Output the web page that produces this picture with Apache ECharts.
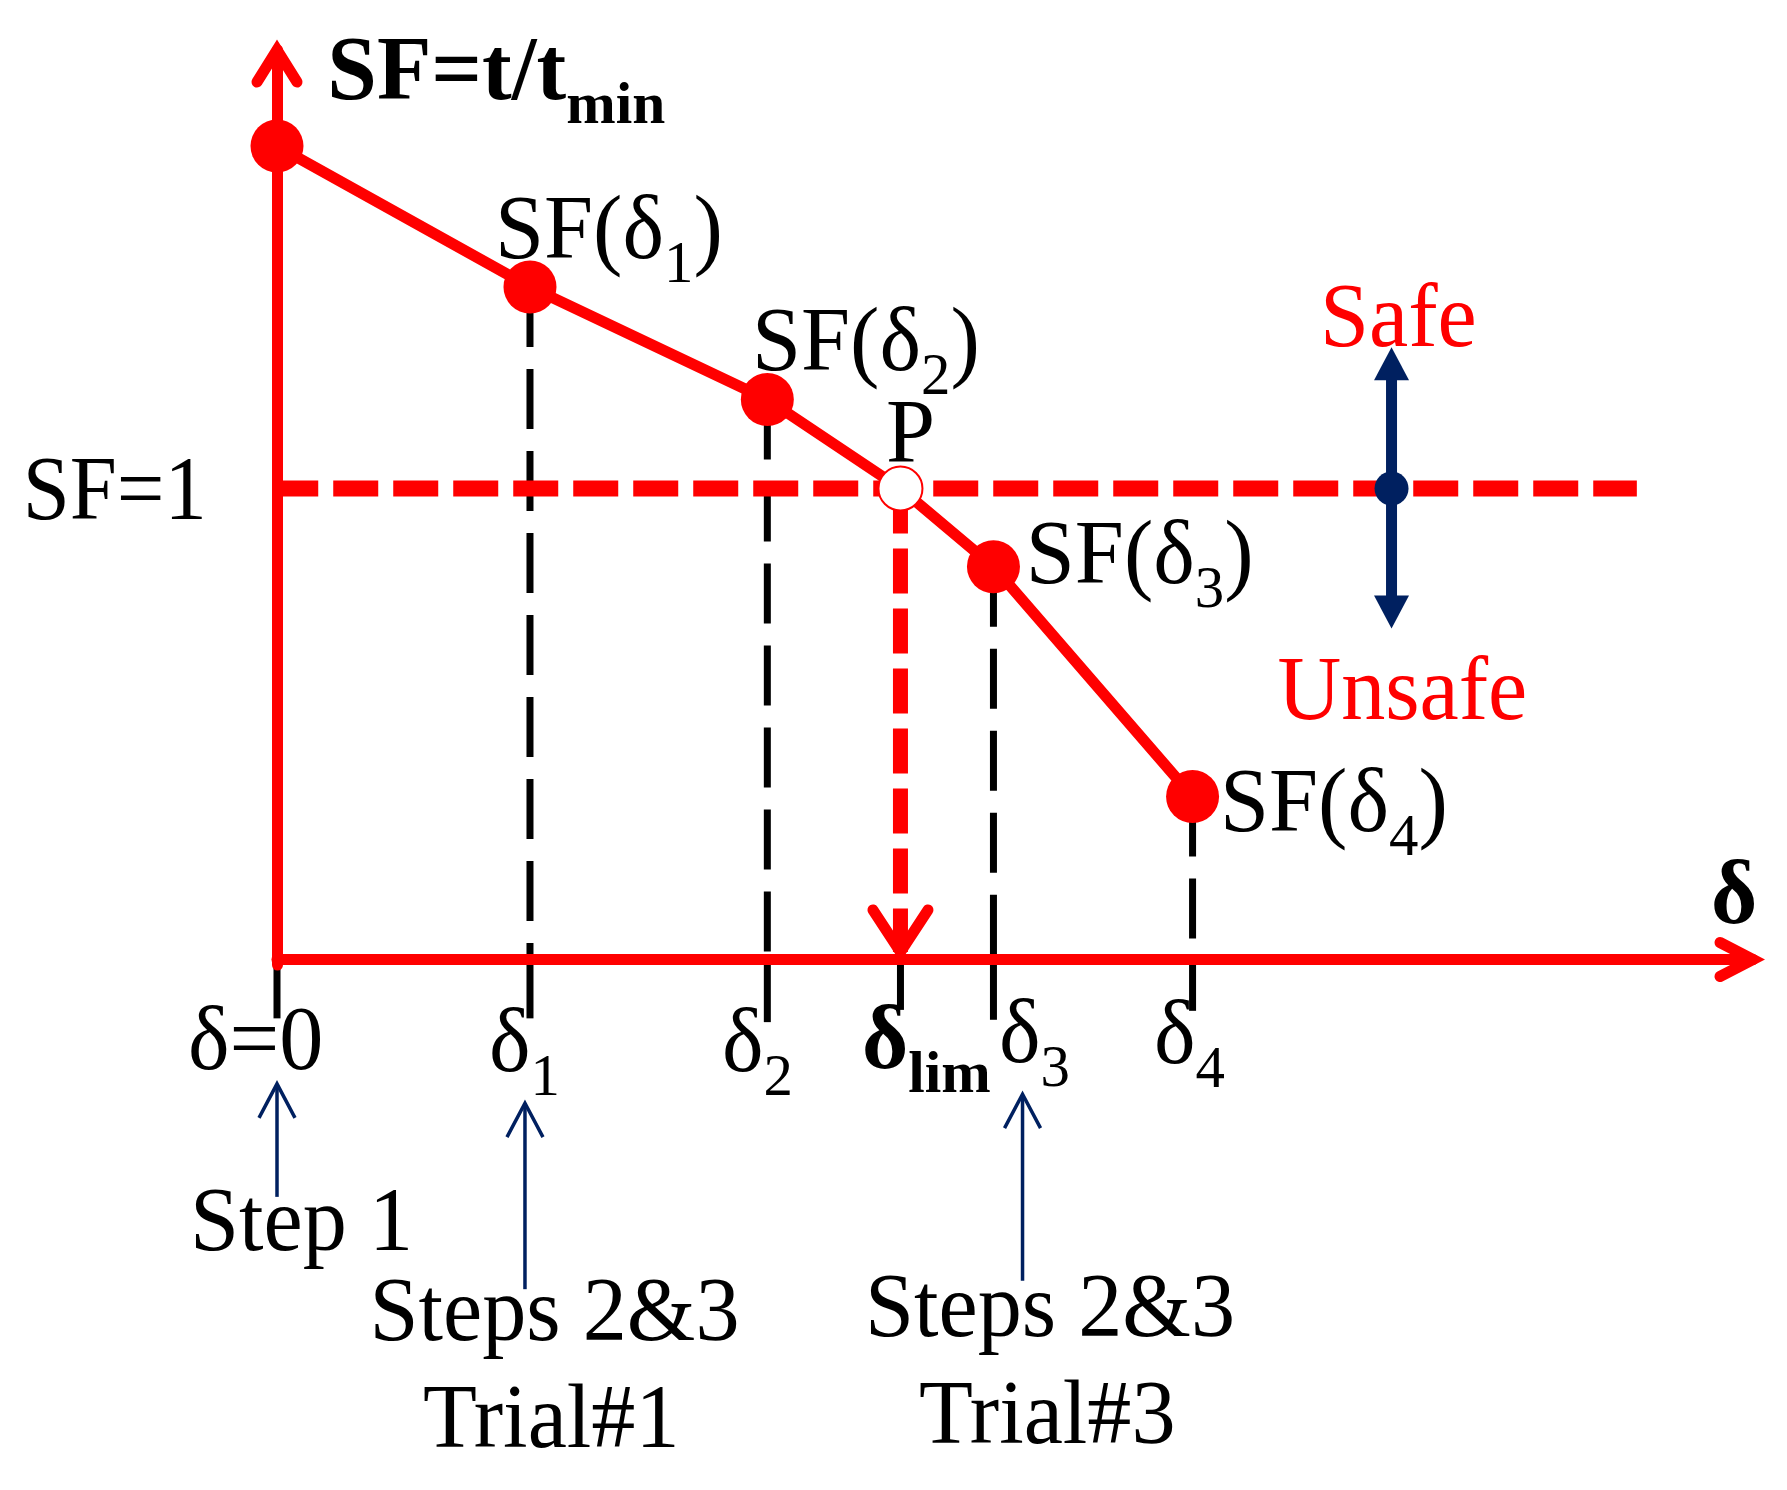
<!DOCTYPE html>
<html>
<head>
<meta charset="utf-8">
<script src="https://cdn.jsdelivr.net/npm/echarts@6/dist/echarts.min.js"></script>
<style>
    html, body { margin: 0; padding: 0; background: #fff; }
    #main { width: 1787px; height: 1490px; }
</style>
</head>
<body>
<div id="main"></div>
<script>
    var RED = '#ff0000';
    var NAVY = '#002060';
    var BLACK = '#000000';
    var SERIF = '"Liberation Serif", "Times New Roman", serif';

    // displacement δ of each trial (index 3 = δlim, point P)
    var deltaX = [0, 1.714, 3.322, 4.224, 4.854, 6.203];
    // safety factor SF = t/tmin at each δ
    var sfValues = [1.727, 1.428, 1.189, 1.0, 0.834, 0.346];
    // depth of the black tick under the δ axis
    var tickDrop = [-0.125, -0.125, -0.133, -0.107, -0.128, -0.109];
    var sfLimit = 1;
    var limitLineX = [-0.432, 9.213];
    var limArrowEnd = 0.016;
    var xMax = 10, yMin = -0.0117, yMax = 1.931;

    // safe / unsafe double arrow
    var safeArrowX = 7.551;
    var safeArrowY = [1.300, 0.703];

    // thin arrows pointing at the step labels
    var stepArrowX = [0, 1.680, 5.051];
    var stepArrowTip = [-0.264, -0.305, -0.286];
    var stepArrowTail = [-0.504, -0.700, -0.682];

    var labelTexts = [
        '{b|SF=t/t}{bs|min}',
        '{n|SF=1}',
        '{n|SF(δ}{s|1}{n|)}',
        '{n|SF(δ}{s|2}{n|)}',
        '{n|P}',
        '{n|SF(δ}{s|3}{n|)}',
        '{n|SF(δ}{s|4}{n|)}',
        '{n|Safe}',
        '{n|Unsafe}',
        '{b|δ}',
        '{n|δ=0}',
        '{n|δ}{s|1}',
        '{n|δ}{s|2}',
        '{b|δ}{bs|lim}',
        '{n|δ}{s|3}',
        '{n|δ}{s|4}',
        '{n|Step 1}',
        '{n|Steps 2&3}',
        '{n|Trial#1}',
        '{n|Steps 2&3}',
        '{n|Trial#3}'
    ];

    // layout: left edge / baseline of each label, in axis units
    var labelAt = [
        [0.341, 1.826], [-1.723, 0.935], [1.477, 1.489], [3.218, 1.252],
        [4.126, 1.057], [5.073, 0.799], [6.389, 0.273], [7.066, 1.303],
        [6.778, 0.511], [9.715, 0.0775], [-0.603, -0.2325], [1.436, -0.2367],
        [3.015, -0.2367], [3.963, -0.2304], [4.892, -0.2176], [5.942, -0.2187],
        [-0.589, -0.6168], [0.627, -0.8066], [0.989, -1.035], [3.984, -0.7987],
        [4.350, -1.0265]
    ];
    var labelColor = function (i) { return (i === 7 || i === 8) ? RED : BLACK; };
    var labelSquash = function (i) {
        if (i === 1) return 0.94;
        return (i === 0 || i === 9 || i === 13) ? 0.99 : 0.98;
    };

    var RICH = {
        n: { fontFamily: SERIF, fontSize: 90, height: 90, lineHeight: 90, verticalAlign: 'bottom' },
        s: { fontFamily: SERIF, fontSize: 60, height: 26, lineHeight: 26, verticalAlign: 'bottom' },
        b: { fontFamily: SERIF, fontSize: 90, fontWeight: 'bold', height: 90, lineHeight: 90, verticalAlign: 'bottom' },
        bs: { fontFamily: SERIF, fontSize: 60, fontWeight: 'bold', height: 26, lineHeight: 26, verticalAlign: 'bottom' }
    };
    // main glyph baseline sits this far above the bottom of a 90px line
    var BASELINE_SHIFT = 21.5;

    // open arrow heads: arm vectors in px from the vertex
    var CHEVRON_ARMS = [
        [[-20, 32], [20, 32]],
        [[-33, -17], [-33, 17]],
        [[-27.5, -42], [27.5, -42]]
    ];

    function renderChevron(params, api) {
        var v = api.coord([api.value(0), api.value(1)]);
        var arms = CHEVRON_ARMS[api.value(2)];
        return {
            type: 'polyline',
            shape: { points: [[v[0] + arms[0][0], v[1] + arms[0][1]], v, [v[0] + arms[1][0], v[1] + arms[1][1]]] },
            style: { stroke: RED, lineWidth: 11, fill: 'none', lineCap: 'round', lineJoin: 'miter' }
        };
    }

    function renderGuide(params, api) {
        var i = params.dataIndex;
        var x = api.value(0);
        var onAxis = api.coord([x, 0]);
        var low = api.coord([x, api.value(2)]);
        var kids = [{
            type: 'line',
            shape: { x1: onAxis[0], y1: onAxis[1], x2: low[0], y2: low[1] },
            style: { stroke: BLACK, lineWidth: 7 }
        }];
        if (i !== 0 && i !== 3) {
            var top = api.coord([x, api.value(1)]);
            kids.push({
                type: 'line',
                shape: { x1: top[0], y1: top[1], x2: onAxis[0], y2: onAxis[1] },
                style: { stroke: BLACK, lineWidth: 7, lineDash: [60, 22] }
            });
        }
        return { type: 'group', children: kids };
    }

    function renderSafeArrow(params, api) {
        var x = api.value(0);
        var top = api.coord([x, api.value(1)]);
        var bot = api.coord([x, api.value(2)]);
        var mid = api.coord([x, sfLimit]);
        var hl = 33, hw = 17.5;
        return {
            type: 'group',
            children: [
                { type: 'line', shape: { x1: top[0], y1: top[1] + hl - 1, x2: bot[0], y2: bot[1] - hl + 1 }, style: { stroke: NAVY, lineWidth: 11 } },
                { type: 'polygon', shape: { points: [[top[0], top[1]], [top[0] - hw, top[1] + hl], [top[0] + hw, top[1] + hl]] }, style: { fill: NAVY } },
                { type: 'polygon', shape: { points: [[bot[0], bot[1]], [bot[0] - hw, bot[1] - hl], [bot[0] + hw, bot[1] - hl]] }, style: { fill: NAVY } },
                { type: 'circle', shape: { cx: mid[0], cy: mid[1], r: 17 }, style: { fill: NAVY } }
            ]
        };
    }

    function renderStepArrow(params, api) {
        var x = api.value(0);
        var tip = api.coord([x, api.value(1)]);
        var tail = api.coord([x, api.value(2)]);
        return {
            type: 'group',
            children: [
                { type: 'line', shape: { x1: tail[0], y1: tail[1], x2: tip[0], y2: tip[1] + 2 }, style: { stroke: NAVY, lineWidth: 3.5 } },
                { type: 'polyline', shape: { points: [[tip[0] - 18, tip[1] + 34], [tip[0], tip[1]], [tip[0] + 18, tip[1] + 34]] }, style: { stroke: NAVY, lineWidth: 3.5, fill: 'none', lineJoin: 'miter' } }
            ]
        };
    }

    function renderLabel(params, api) {
        var i = params.dataIndex;
        var pt = api.coord([api.value(0), api.value(1)]);
        return {
            type: 'text',
            x: pt[0],
            y: pt[1] + BASELINE_SHIFT,
            scaleX: labelSquash(i),
            style: {
                text: labelTexts[i],
                rich: RICH,
                fill: labelColor(i),
                align: 'left',
                verticalAlign: 'bottom'
            }
        };
    }

    var curveData = deltaX.map(function (x, i) {
        var item = { value: [x, sfValues[i]] };
        if (i === 3) {
            item.symbol = 'emptyCircle';
            item.symbolSize = 44;
            item.itemStyle = { color: RED, borderColor: RED, borderWidth: 11 };
        }
        return item;
    });

    var axisStyle = {
        show: true,
        onZero: true,
        lineStyle: { color: RED, width: 11 }
    };

    var myChart = echarts.init(document.getElementById('main'));
    var option = {
        backgroundColor: '#ffffff',
        animation: false,
        grid: { left: 277, right: 34, top: 50, bottom: 525 },
        xAxis: {
            type: 'value', min: 0, max: xMax, z: 3,
            axisLine: axisStyle,
            axisTick: { show: false }, axisLabel: { show: false }, splitLine: { show: false }
        },
        yAxis: {
            type: 'value', min: yMin, max: yMax, z: 3,
            axisLine: axisStyle,
            axisTick: { show: false }, axisLabel: { show: false }, splitLine: { show: false }
        },
        series: [
            {
                name: 'guides', type: 'custom', z: 2, silent: true,
                renderItem: renderGuide,
                data: deltaX.map(function (x, i) { return [x, sfValues[i], tickDrop[i]]; })
            },
            {
                name: 'SF=1', type: 'line', z: 3, clip: false, silent: true, symbol: 'none',
                data: [[limitLineX[0], sfLimit], [limitLineX[1], sfLimit]],
                lineStyle: { color: RED, width: 16, type: [45, 15] }
            },
            {
                name: 'lim', type: 'line', z: 3, clip: false, silent: true, symbol: 'none',
                data: [[deltaX[3], sfLimit], [deltaX[3], limArrowEnd]],
                lineStyle: { color: RED, width: 15, type: [45, 15] }
            },
            {
                name: 'SF', type: 'line', z: 4, clip: false, silent: true,
                symbol: 'circle', symbolSize: 53,
                itemStyle: { color: RED, borderWidth: 0 },
                lineStyle: { color: RED, width: 11, join: 'round' },
                data: curveData
            },
            {
                name: 'heads', type: 'custom', z: 5, silent: true,
                renderItem: renderChevron,
                data: [[0, yMax, 0], [xMax, 0, 1], [deltaX[3], limArrowEnd, 2]]
            },
            {
                name: 'safe', type: 'custom', z: 5, silent: true,
                renderItem: renderSafeArrow,
                data: [[safeArrowX, safeArrowY[0], safeArrowY[1]]]
            },
            {
                name: 'steps', type: 'custom', z: 5, silent: true,
                renderItem: renderStepArrow,
                data: stepArrowX.map(function (x, i) { return [x, stepArrowTip[i], stepArrowTail[i]]; })
            },
            {
                name: 'labels', type: 'custom', z: 6, silent: true,
                renderItem: renderLabel,
                data: labelAt
            }
        ]
    };
    myChart.setOption(option);
</script>
</body>
</html>
